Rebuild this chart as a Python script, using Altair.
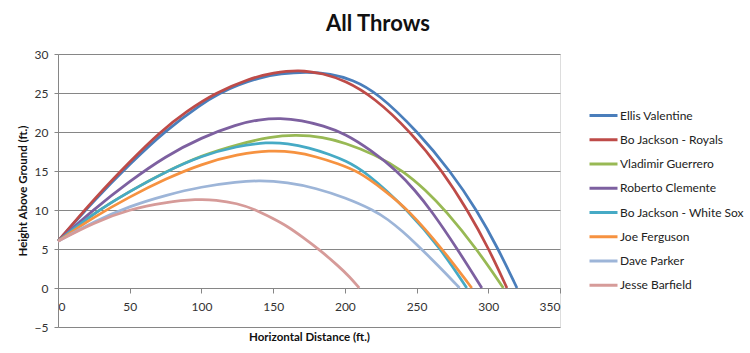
import altair as alt
import pandas as pd

names = ["Ellis Valentine", "Bo Jackson - Royals", "Vladimir Guerrero", "Roberto Clemente",
         "Bo Jackson - White Sox", "Joe Ferguson", "Dave Parker", "Jesse Barfield"]
colors = ["#4A7EBB", "#BE4B48", "#98B954", "#7D60A0", "#46AAC5", "#F69240", "#9DB5D8", "#D69B99"]

ellis_x = [0, 25, 50, 75, 100, 113, 125, 140, 155, 174, 190, 205, 223, 251, 273.5, 292, 307, 320]
ellis_y = [6, 11.2, 15.9, 20.2, 23.6, 25.0, 26.0, 26.95, 27.5, 27.75, 27.45, 26.75, 25.0, 20.0, 15.0, 10.0, 5.0, 0]

royals_x = [0, 25, 50, 71, 90, 109.5, 134, 150, 168, 185, 200, 220, 246, 268, 285.5, 300.5, 313]
royals_y = [6, 11.4, 16.2, 20.0, 22.7, 25.0, 26.9, 27.6, 28.0, 27.5, 26.6, 24.5, 20.0, 15.0, 10.0, 5.0, 0]

vlad_x = [0, 25, 50, 75, 100, 125, 148, 166, 185, 200, 220, 241, 256, 270, 292, 310.5]
vlad_y = [6, 9.6, 12.4, 14.9, 17.0, 18.4, 19.4, 19.65, 19.35, 18.6, 17.2, 15.0, 12.6, 10.0, 5.0, 0]

clemente_x = [0, 25, 50, 75, 100, 125, 140, 155, 170, 185, 200, 218, 236.5, 249, 260, 278.5, 295.5]
clemente_y = [6, 10.1, 13.7, 16.9, 19.3, 21.0, 21.6, 21.8, 21.5, 20.8, 19.8, 17.7, 15.0, 12.5, 10.0, 5.0, 0]

whitesox_x = [0, 25, 50, 75, 100, 125, 146, 160, 175, 190, 200, 214, 244, 267, 285]
whitesox_y = [6, 9.6, 12.4, 14.9, 16.95, 18.2, 18.7, 18.55, 18.0, 17.1, 16.35, 15.0, 10.0, 5.0, 0]

ferguson_x = [0, 25, 50, 75, 100, 125, 148, 165, 180, 195, 210, 227, 244.5, 268, 288.5]
ferguson_y = [6, 9.1, 11.7, 14.0, 15.9, 17.15, 17.65, 17.45, 16.85, 15.95, 14.9, 12.6, 10.0, 5.0, 0]

parker_x = [0, 25, 50, 75, 100, 125, 140, 160, 180, 200, 220, 230, 240, 250, 260, 270, 280]
parker_y = [6, 8.5, 10.5, 11.9, 13.0, 13.6, 13.8, 13.55, 12.8, 11.6, 10.0, 8.8, 7.3, 5.6, 3.8, 1.95, 0]

barfield_x = [0, 25, 50, 75, 97, 110, 125, 137, 150, 160, 170, 183, 195, 203.6, 210]
barfield_y = [6, 8.4, 10.1, 11.0, 11.4, 11.3, 10.85, 10.1, 8.9, 7.9, 6.6, 4.8, 2.9, 1.4, 0]

x_ticks = [0, 50, 100, 150, 200, 250, 300, 350]
y_ticks = [-5, 0, 5, 10, 15, 20, 25, 30]

series = [(ellis_x, ellis_y), (royals_x, royals_y), (vlad_x, vlad_y), (clemente_x, clemente_y),
          (whitesox_x, whitesox_y), (ferguson_x, ferguson_y), (parker_x, parker_y), (barfield_x, barfield_y)]

rows = []
for i, (name, (xs, ys)) in enumerate(zip(names, series)):
    for j, (x, y) in enumerate(zip(xs, ys)):
        rows.append({"player": name, "order": i, "idx": j, "x": x, "y": y})
df = pd.DataFrame(rows)

FONT = "Lato"
GRID = "#868686"

chart = alt.Chart(df).mark_line(strokeWidth=2.75, interpolate="basis").encode(
    x=alt.X("x:Q",
            scale=alt.Scale(domain=[0, 350], nice=False),
            axis=alt.Axis(values=x_ticks, grid=False, offset=-39, tickSize=5,
                          domainColor=GRID, tickColor=GRID, labelFont=FONT, labelFontSize=12,
                          labelColor="#333333", labelPadding=8,
                          title="Horizontal Distance (ft.)", titleFont=FONT, titleFontSize=11.5,
                          titleFontWeight="bold", titleColor="#111111", titlePadding=19)),
    y=alt.Y("y:Q",
            scale=alt.Scale(domain=[-5, 30], nice=False, zero=False),
            axis=alt.Axis(values=y_ticks, grid=True, gridColor=GRID, gridOpacity=1, gridWidth=1,
                          tickSize=4, domainColor=GRID, tickColor=GRID, labelFont=FONT,
                          labelFontSize=12, labelColor="#333333", labelPadding=6,
                          title="Height Above Ground (ft.)", titleFont=FONT, titleFontSize=11.5,
                          titleFontWeight="bold", titleColor="#111111", titlePadding=6)),
    color=alt.Color("player:N",
                    scale=alt.Scale(domain=names, range=colors),
                    sort=names,
                    legend=alt.Legend(title=None, orient="none", legendX=534, legendY=50,
                                      symbolType="M-1.4,0H1.4", symbolSize=400,
                                      symbolStrokeWidth=3, labelFont=FONT, labelFontSize=12,
                                      labelColor="#222222", labelOffset=5, rowPadding=6.25,
                                      padding=0)),
    detail="player:N",
    order=alt.Order("idx:Q"),
).properties(
    width=502,
    height=273,
    title=alt.TitleParams("All Throws", font=FONT, fontSize=22, fontWeight="bold",
                          color="#111111", anchor="middle", dx=69, offset=12),
    padding={"left": 58, "top": 54, "right": 190, "bottom": 26},
    autosize=alt.AutoSizeParams(type="none"),
).configure_view(stroke=None).configure(background="white")

chart.save("out.html", embed_options={"renderer": "svg", "actions": False})
